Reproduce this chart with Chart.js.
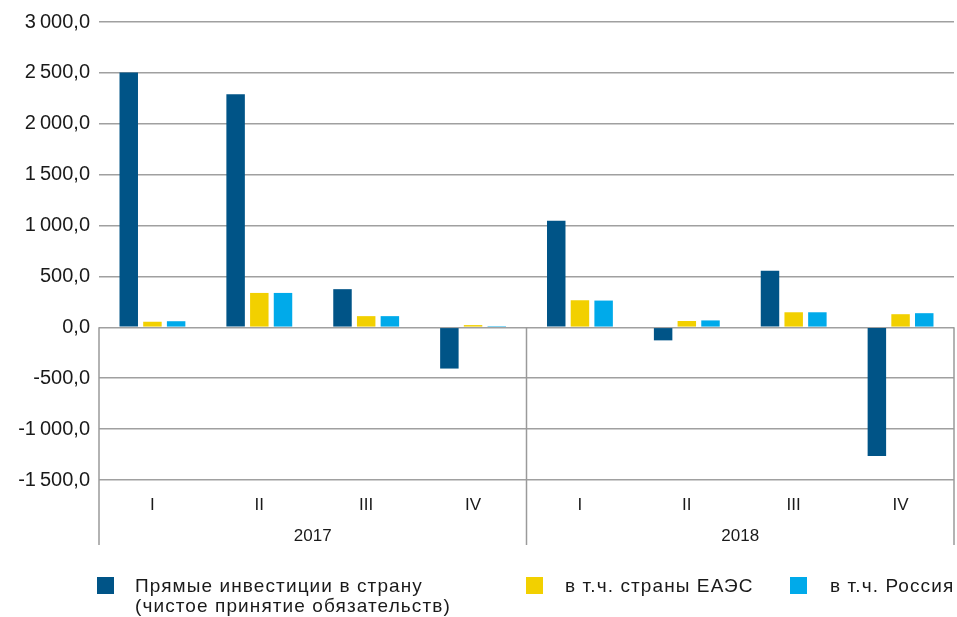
<!DOCTYPE html>
<html>
<head>
<meta charset="utf-8">
<script src="https://cdn.jsdelivr.net/npm/chart.js@4"></script>
<style>
  html, body { margin: 0; padding: 0; background: #fff; }
  #wrap { position: relative; width: 957px; height: 617px; }
  .legend { position: absolute; font-family: 'Liberation Sans', Arial, sans-serif; font-size: 19px; letter-spacing: 1.1px; color: #1a1a1a; line-height: 20px; white-space: nowrap; }
  .box { position: absolute; width: 17px; height: 17px; }
</style>
</head>
<body>
<div id="wrap">
  <canvas id="myChart" width="957" height="617"></canvas>
  <div class="box" style="left:97px; top:577px; background:#005487"></div>
  <div class="legend" style="left:135px; top:576px">Прямые инвестиции в страну<br>(чистое принятие обязательств)</div>
  <div class="box" style="left:526px; top:577px; background:#f2d000"></div>
  <div class="legend" style="left:565px; top:576px">в т.ч. страны ЕАЭС</div>
  <div class="box" style="left:790px; top:577px; background:#00aaea"></div>
  <div class="legend" style="left:830px; top:576px">в т.ч. Россия</div>
</div>
<script>
const quarters = ['I', 'II', 'III', 'IV', 'I', 'II', 'III', 'IV'];
const years = ['2017', '2018'];
const fdi = [2505, 2290, 375, -405, 1046, -128, 556, -1265];
const eaeu = [55, 338, 110, 22, 266, 62, 148, 129];
const russia = [60, 338, 110, 12, 263, 68, 148, 139];

const font = "'Liberation Sans', Arial, sans-serif";

function fmt(v) {
    let s = Math.abs(v).toFixed(1).replace('.', ',');
    let [int, dec] = s.split(',');
    int = int.replace(/\B(?=(\d{3})+(?!\d))/g, '\u2009');
    return (v < 0 ? '-' : '') + int + ',' + dec;
}

// vertical divider lines below the zero line
const dividers = {
    id: 'dividers',
    afterDraw(chart) {
        const x = chart.scales.x, y = chart.scales.y;
        const ctx = chart.ctx;
        const y0 = y.getPixelForValue(0);
        const mid = (x.getPixelForValue(3) + x.getPixelForValue(4)) / 2;
        ctx.save();
        ctx.strokeStyle = '#9a9a9a';
        ctx.lineWidth = 1.5;
        [x.left, mid, x.right].forEach(px => {
            ctx.beginPath();
            ctx.moveTo(px, y0);
            ctx.lineTo(px, 545);
            ctx.stroke();
        });
        ctx.restore();
    }
};

new Chart(document.getElementById('myChart'), {
    type: 'bar',
    data: {
        labels: quarters,
        datasets: [
            { label: 'Прямые инвестиции в страну', data: fdi, backgroundColor: '#005487' },
            { label: 'в т.ч. страны ЕАЭС', data: eaeu, backgroundColor: '#f2d000' },
            { label: 'в т.ч. Россия', data: russia, backgroundColor: '#00aaea' }
        ]
    },
    options: {
        responsive: false,
        animation: false,
        categoryPercentage: 0.665,
        barPercentage: 0.78,
        layout: { padding: { top: 22, right: 3, bottom: 67, left: 0 } },
        plugins: {
            legend: { display: false },
            tooltip: { enabled: false }
        },
        scales: {
            y: {
                min: -1500,
                max: 3000,
                ticks: {
                    stepSize: 500,
                    padding: 9,
                    color: '#1a1a1a',
                    font: { family: font, size: 20 },
                    callback: v => fmt(v)
                },
                grid: { color: '#a0a0a0', lineWidth: 1.5, drawTicks: false },
                border: { display: false },
                afterFit(scale) { scale.width = 99; }
            },
            x: {
                ticks: {
                    padding: 15,
                    color: '#1a1a1a',
                    font: { family: font, size: 17 }
                },
                grid: { display: false, drawTicks: false },
                border: { display: false },
                afterFit(scale) { scale.height = 40; }
            },
            x2: {
                type: 'category',
                position: 'bottom',
                labels: years,
                offset: true,
                ticks: {
                    padding: 6,
                    color: '#1a1a1a',
                    font: { family: font, size: 17 }
                },
                grid: { display: false, drawTicks: false },
                border: { display: false },
                afterFit(scale) { scale.height = 30; }
            }
        }
    },
    plugins: [dividers]
});
</script>
</body>
</html>
